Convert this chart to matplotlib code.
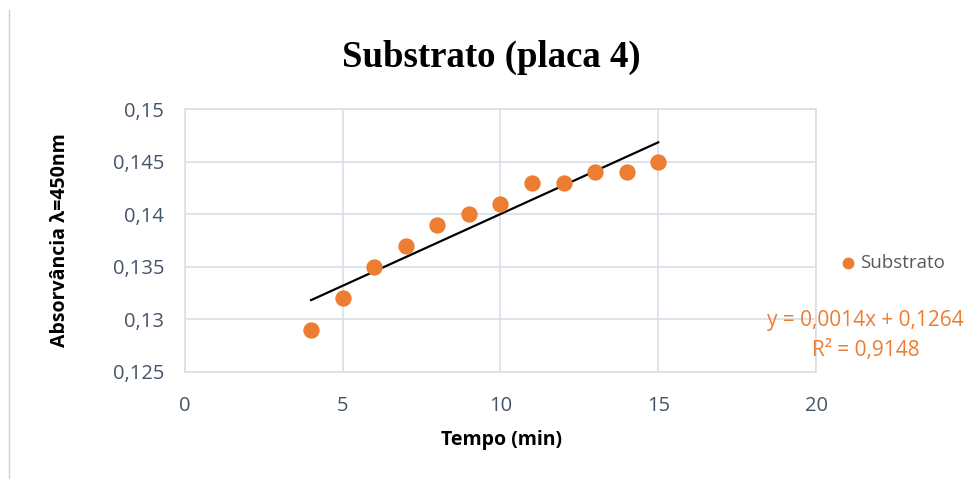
import numpy as np
import matplotlib
matplotlib.use('Agg')
import matplotlib.pyplot as plt
from matplotlib.lines import Line2D

# dados
tempo = [4, 5, 6, 7, 8, 9, 10, 11, 12, 13, 14, 15]
absorvancia = [0.129, 0.132, 0.135, 0.137, 0.139, 0.140, 0.141, 0.143, 0.143, 0.144, 0.144, 0.145]
x_ticks = [0, 5, 10, 15, 20]
y_ticks = [0.125, 0.13, 0.135, 0.14, 0.145, 0.15]
y_ticklabels = ['0,125', '0,13', '0,135', '0,14', '0,145', '0,15']
equacao = 'y = 0,0014x + 0,1264'
r2 = 'R² = 0,9148'

laranja = '#ED7D31'
grade = '#D9DEE8'
cinza_txt = '#44546A'

plt.rcParams['font.family'] = ['Open Sans', 'DejaVu Sans']

fig = plt.figure(figsize=(9.68, 4.79), dpi=100)
ax = fig.add_axes([0.191, 0.2234, 0.652, 0.549])

ax.scatter(tempo, absorvancia, s=115, color=laranja, zorder=3, label='Substrato')

# linha de tendencia linear
coef = np.polyfit(tempo, absorvancia, 1)
xt = np.array([min(tempo), max(tempo)])
ax.plot(xt, np.polyval(coef, xt), color='black', lw=1.6, zorder=2)

ax.set_xlim(0, 20)
ax.set_ylim(0.125, 0.15)
ax.set_xticks(x_ticks)
ax.set_yticks(y_ticks)
ax.set_yticklabels(y_ticklabels)
ax.tick_params(axis='both', length=0, labelsize=14.5, labelcolor=cinza_txt)
ax.tick_params(axis='x', pad=17)
ax.tick_params(axis='y', pad=15)
ax.grid(True, color=grade, lw=1.2)
ax.set_axisbelow(True)
for s in ax.spines.values():
    s.set_color(grade)
    s.set_linewidth(1.2)

fig.text(0.518, 0.081, 'Tempo (min)', ha='center', va='center', fontsize=14, fontweight='bold')
fig.text(0.062, 0.499, 'Absorvância λ=450nm', ha='center', va='center', rotation=90,
         fontsize=14, fontweight='bold')

fig.text(0.508, 0.881, 'Substrato (placa 4)', ha='center', va='center',
         fontsize=26.5, fontweight='bold', family='Liberation Serif')

# legenda e equacao
ax.legend(loc='center left', bbox_to_anchor=(0.995, 0.414), frameon=False,
          fontsize=13.5, labelcolor='#595959', handletextpad=-0.4, markerscale=0.7)
fig.text(0.894, 0.330, equacao, ha='center', va='center', fontsize=15, color=laranja)
fig.text(0.894, 0.269, r2, ha='center', va='center', fontsize=15, color=laranja)

# borda esquerda do quadro
fig.add_artist(Line2D([0.009, 0.009], [0.0, 0.98], transform=fig.transFigure,
                      color='#D0D0D0', lw=1))

fig.savefig('out.png', dpi=100)
